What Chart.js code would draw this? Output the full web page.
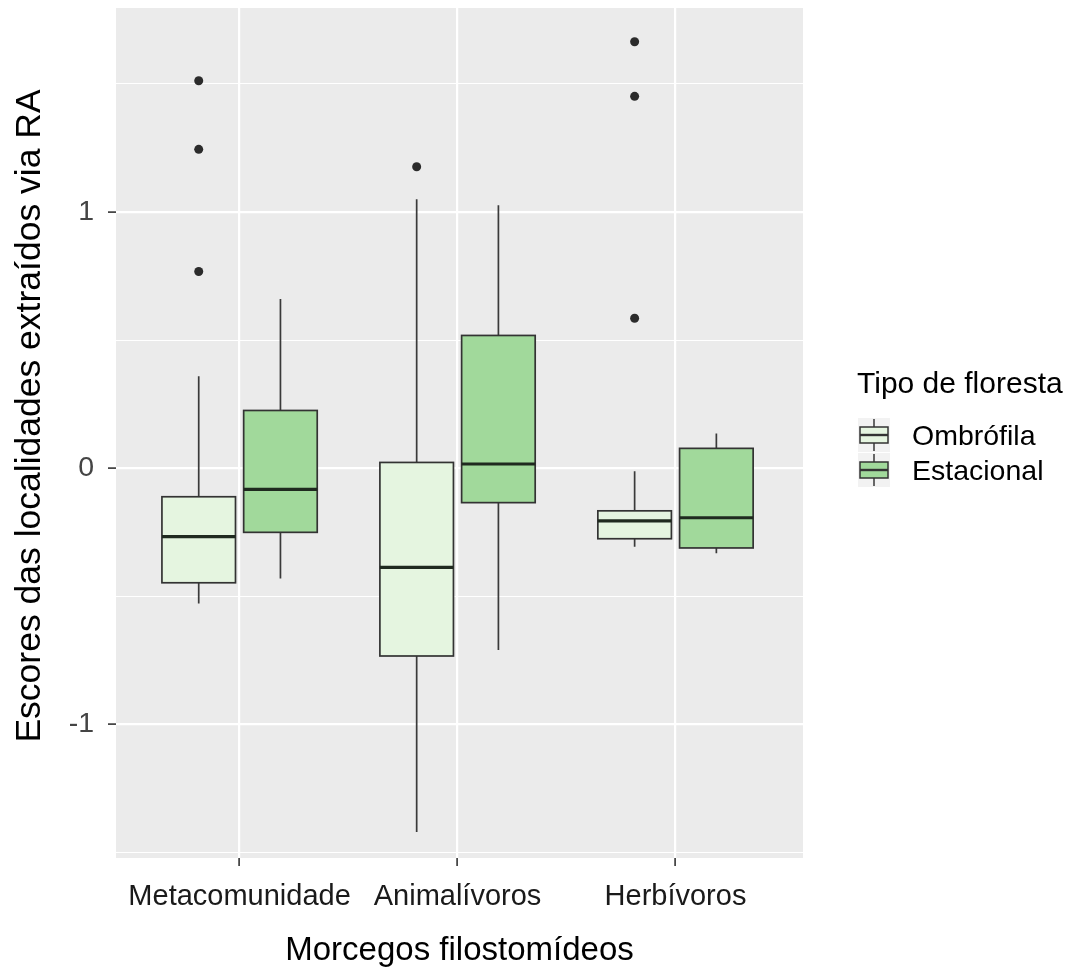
<!DOCTYPE html>
<html>
<head>
<meta charset="utf-8">
<title>Escores das localidades por tipo de floresta</title>
<script src="https://cdn.jsdelivr.net/npm/chart.js@4.4.1/dist/chart.umd.min.js"></script>
<style>
  html, body { margin: 0; padding: 0; background: #ffffff; }
  #wrap { width: 1071px; height: 971px; position: relative; }
</style>
</head>
<body>
<div id="wrap"><canvas id="chart" width="1071" height="971"></canvas></div>
<script>
// Groups of phyllostomid bats on the x axis
const categories = ['Metacomunidade', 'Animalívoros', 'Herbívoros'];
// Forest types (fill groups)
const forestTypes = ['Ombrófila', 'Estacional'];
const forestColors = ['#e5f5e0', '#a1d99b'];

// Box summaries per group: [lower whisker, Q1, median, Q3, upper whisker]
const ombrofilaStats = [
  [-0.529, -0.448, -0.268, -0.112, 0.359],
  [-1.421, -0.734, -0.388,  0.022, 1.050],
  [-0.307, -0.276, -0.206, -0.167, -0.012]
];
const estacionalStats = [
  [-0.431, -0.251, -0.083, 0.225, 0.660],
  [-0.711, -0.135,  0.016, 0.518, 1.027],
  [-0.333, -0.312, -0.194, 0.077, 0.135]
];
// Points beyond the whiskers
const ombrofilaOutliers = [
  [1.513, 1.245, 0.768],
  [1.177],
  [1.665, 1.452, 0.585]
];
const estacionalOutliers = [[], [], []];

// Axis breaks
const yBreaks = [-1.5, -1, -0.5, 0, 0.5, 1, 1.5];
const yLabeled = [-1, 0, 1];
const xBreaks = [1, 2, 3];

const yTitle = 'Escores das localidades extraídos via RA';
const xTitle = 'Morcegos filostomídeos';
const legendTitle = 'Tipo de floresta';

const FONT = '"Liberation Sans", Arial, Helvetica, sans-serif';
const dodge = 0.1875;      // half of the dodge width per group
const boxWidth = 0.3375;   // box width in x units

const statsByType = [ombrofilaStats, estacionalStats];
const outliersByType = [ombrofilaOutliers, estacionalOutliers];

// scatter datasets for outlying points
const outlierDatasets = forestTypes.map((name, t) => ({
  label: name,
  type: 'scatter',
  data: outliersByType[t].flatMap((vals, i) =>
    vals.map(v => ({ x: i + 1 + (t === 0 ? -dodge : dodge), y: v }))),
  pointRadius: 4.5,
  pointHoverRadius: 4.5,
  pointBackgroundColor: '#2b2b2b',
  pointBorderColor: '#2b2b2b',
  pointBorderWidth: 0
}));

// grey panel behind the grid
const panelBackground = {
  id: 'panelBackground',
  beforeDraw(chart) {
    const { ctx, chartArea: a } = chart;
    ctx.save();
    ctx.fillStyle = '#ebebeb';
    ctx.fillRect(a.left, a.top, a.right - a.left, a.bottom - a.top);
    ctx.restore();
  }
};

// box-and-whisker marks, placed with the chart's own scales
const boxplots = {
  id: 'boxplots',
  beforeDatasetsDraw(chart) {
    const { ctx, scales: { x, y } } = chart;
    ctx.save();
    statsByType.forEach((stats, t) => {
      stats.forEach((s, i) => {
        const cx = i + 1 + (t === 0 ? -dodge : dodge);
        const px = x.getPixelForValue(cx);
        const left = x.getPixelForValue(cx - boxWidth / 2);
        const right = x.getPixelForValue(cx + boxWidth / 2);
        const [lo, q1, med, q3, hi] = s.map(v => y.getPixelForValue(v));
        // whiskers
        ctx.strokeStyle = '#3a3a3a';
        ctx.lineWidth = 1.7;
        ctx.beginPath();
        ctx.moveTo(px, q3); ctx.lineTo(px, hi);
        ctx.moveTo(px, q1); ctx.lineTo(px, lo);
        ctx.stroke();
        // box
        ctx.fillStyle = forestColors[t];
        ctx.fillRect(left, q3, right - left, q1 - q3);
        ctx.strokeStyle = '#333333';
        ctx.lineWidth = 1.7;
        ctx.strokeRect(left, q3, right - left, q1 - q3);
        // median
        ctx.strokeStyle = '#1f2a1f';
        ctx.lineWidth = 3.2;
        ctx.beginPath();
        ctx.moveTo(left, med); ctx.lineTo(right, med);
        ctx.stroke();
      });
    });
    ctx.restore();
  }
};

// rotated y-axis title
const yAxisTitle = {
  id: 'yAxisTitle',
  afterDraw(chart) {
    const { ctx } = chart;
    ctx.save();
    ctx.translate(30, 416);
    ctx.rotate(-Math.PI / 2);
    ctx.fillStyle = '#000000';
    ctx.font = '35.5px ' + FONT;
    ctx.textAlign = 'center';
    ctx.textBaseline = 'middle';
    ctx.fillText(yTitle, 0, 0);
    ctx.restore();
  }
};

// legend with box-shaped keys
const boxLegend = {
  id: 'boxLegend',
  afterDraw(chart) {
    const { ctx } = chart;
    ctx.save();
    ctx.fillStyle = '#000000';
    ctx.textBaseline = 'middle';
    ctx.textAlign = 'left';
    ctx.font = '30px ' + FONT;
    ctx.fillText(legendTitle, 857, 385);
    forestTypes.forEach((name, t) => {
      const cy = 435 + t * 35;
      const kx = 858, kw = 32;
      ctx.fillStyle = '#f2f2f2';
      ctx.fillRect(kx, cy - 17, kw, 34);
      ctx.strokeStyle = '#3a3a3a';
      ctx.lineWidth = 1.5;
      ctx.beginPath();
      ctx.moveTo(kx + kw / 2, cy - 16); ctx.lineTo(kx + kw / 2, cy - 8);
      ctx.moveTo(kx + kw / 2, cy + 8); ctx.lineTo(kx + kw / 2, cy + 16);
      ctx.stroke();
      ctx.fillStyle = forestColors[t];
      ctx.fillRect(kx + 2, cy - 8, kw - 4, 16);
      ctx.strokeStyle = '#333333';
      ctx.strokeRect(kx + 2, cy - 8, kw - 4, 16);
      ctx.lineWidth = 2.4;
      ctx.beginPath();
      ctx.moveTo(kx + 2, cy); ctx.lineTo(kx + kw - 2, cy);
      ctx.stroke();
      ctx.fillStyle = '#000000';
      ctx.font = '28.5px ' + FONT;
      ctx.fillText(name, 912, cy + 2);
    });
    ctx.restore();
  }
};

const isLabeled = v => yLabeled.some(b => Math.abs(b - v) < 1e-9);

new Chart(document.getElementById('chart'), {
  type: 'scatter',
  data: { datasets: outlierDatasets },
  plugins: [panelBackground, boxplots, yAxisTitle, boxLegend],
  options: {
    responsive: false,
    animation: false,
    events: [],
    layout: { padding: { top: 8, right: 268, left: 0, bottom: 0 } },
    plugins: { legend: { display: false }, tooltip: { enabled: false } },
    scales: {
      x: {
        type: 'linear',
        min: 0.433,
        max: 3.585,
        afterBuildTicks: s => { s.ticks = xBreaks.map(v => ({ value: v })); },
        afterFit: s => { s.height = 113; s.paddingLeft = 0; s.paddingRight = 0; },
        border: { display: false },
        grid: {
          color: '#ffffff',
          lineWidth: 2.2,
          drawTicks: true,
          tickLength: 8,
          tickWidth: 1.6,
          tickColor: '#333333'
        },
        ticks: {
          autoSkip: false,
          maxRotation: 0,
          padding: 14,
          color: '#1a1a1a',
          font: { family: FONT, size: 29 },
          callback: v => categories[Math.round(v) - 1]
        },
        title: {
          display: true,
          text: xTitle,
          color: '#000000',
          font: { family: FONT, size: 33 },
          padding: { top: 0, bottom: 0 }
        }
      },
      y: {
        type: 'linear',
        min: -1.523,
        max: 1.797,
        afterBuildTicks: s => { s.ticks = yBreaks.map(v => ({ value: v })); },
        afterFit: s => { s.width = 116; s.paddingTop = 0; s.paddingBottom = 0; },
        border: { display: false },
        grid: {
          color: '#ffffff',
          lineWidth: c => (c.tick && isLabeled(c.tick.value)) ? 2.2 : 1.1,
          drawTicks: true,
          tickLength: 8,
          tickWidth: 1.6,
          tickColor: c => (c.tick && isLabeled(c.tick.value)) ? '#333333' : 'rgba(0,0,0,0)'
        },
        ticks: {
          autoSkip: false,
          padding: 14,
          color: '#444444',
          font: { family: FONT, size: 28.5 },
          callback: v => isLabeled(v) ? String(Math.round(v)) : ''
        },
        title: { display: false }
      }
    }
  }
});
</script>
</body>
</html>
